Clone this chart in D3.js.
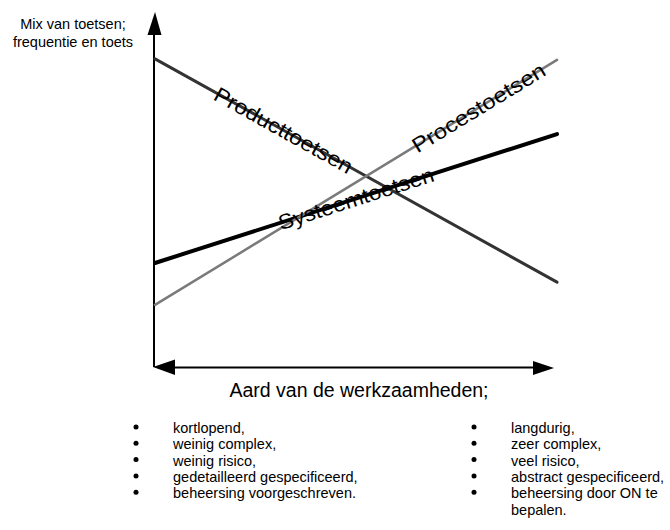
<!DOCTYPE html>
<html>
<head>
<meta charset="utf-8">
<script src="https://cdn.jsdelivr.net/npm/d3@7"></script>
<style>
  html, body { margin: 0; padding: 0; background: #fff; }
  svg { display: block; font-family: "Liberation Sans", Arial, sans-serif; }
</style>
</head>
<body>
<svg id="chart" width="670" height="530"></svg>
<script>
// ---- data ----
const categories = ["kortlopend", "langdurig"];
const seriesNames = ["Producttoetsen", "Systeemtoetsen", "Procestoetsen"];
const producttoetsen = [86.8, 23.9];
const systeemtoetsen = [29.3, 65.6];
const procestoetsen = [17.5, 86.5];
const yAxisLabel = ["Mix van toetsen;", "frequentie en toets"];
const xAxisLabel = "Aard van de werkzaamheden;";
const leftItems = ["kortlopend,", "weinig complex,", "weinig risico,", "gedetailleerd gespecificeerd,", "beheersing voorgeschreven."];
const rightItems = ["langdurig,", "zeer complex,", "veel risico,", "abstract gespecificeerd,", "beheersing door ON te", "bepalen."];
const rightBullets = [true, true, true, true, true, false];

// ---- styles / layout ----
const seriesStyle = {
  Producttoetsen: { color: "#333", width: 3, labelAt: 0.32, labelLen: 155 },
  Systeemtoetsen: { color: "#000", width: 4, labelAt: 0.50, labelLen: 162 },
  Procestoetsen:  { color: "#7a7a7a", width: 2.5, labelAt: 0.805, labelLen: 152 }
};
const seriesData = {
  Producttoetsen: producttoetsen,
  Systeemtoetsen: systeemtoetsen,
  Procestoetsen: procestoetsen
};

const svg = d3.select("#chart");
const x = d3.scalePoint().domain(categories).range([155, 557]);
const y = d3.scaleLinear().domain([0, 100]).range([367, 12]);

// axes with arrowheads
const x0 = x.range()[0] - 1, x1 = x.range()[1];
const yBase = y(0), yTop = y(100);
svg.append("line").attr("x1", x0).attr("x2", x0).attr("y1", yBase).attr("y2", yTop + 20)
  .attr("stroke", "#000").attr("stroke-width", 2);
svg.append("path").attr("d", `M${x0+1},${yTop} L${x0-6.5},${yTop+23} L${x0+7.5},${yTop+23} Z`).attr("fill", "#000");
svg.append("line").attr("x1", x0 + 15).attr("x2", x1 - 20).attr("y1", yBase + 0.5).attr("y2", yBase + 0.5)
  .attr("stroke", "#000").attr("stroke-width", 2);
svg.append("path").attr("d", `M${x0-1},${yBase} L${x0+21},${yBase-7.5} L${x0+21},${yBase+8} Z`).attr("fill", "#000");
svg.append("path").attr("d", `M${x1-3},${yBase+1} L${x1-24},${yBase-6} L${x1-24},${yBase+8} Z`).attr("fill", "#000");

// series lines
const line = d3.line().x((d, i) => x(categories[i])).y(d => y(d));
seriesNames.forEach(name => {
  const st = seriesStyle[name];
  svg.append("path").datum(seriesData[name]).attr("d", line)
    .attr("fill", "none").attr("stroke", st.color).attr("stroke-width", st.width)
    .attr("stroke-linecap", "round");
});
// labels along lines
seriesNames.forEach(name => {
  const st = seriesStyle[name];
  const v = seriesData[name];
  const p0 = [x(categories[0]), y(v[0])], p1 = [x(categories[1]), y(v[1])];
  const cx = p0[0] + (p1[0] - p0[0]) * st.labelAt;
  const cy = p0[1] + (p1[1] - p0[1]) * st.labelAt;
  const ang = Math.atan2(p1[1] - p0[1], p1[0] - p0[0]) * 180 / Math.PI;
  svg.append("text")
    .attr("transform", `translate(${cx},${cy}) rotate(${ang})`)
    .attr("text-anchor", "middle").attr("dy", "0.35em")
    .attr("font-size", 21).attr("fill", "#000")
    .attr("textLength", st.labelLen).attr("lengthAdjust", "spacingAndGlyphs")
    .text(name);
});

// axis labels
const yl = svg.append("text").attr("text-anchor", "middle").attr("font-size", 14.5).attr("fill", "#000");
yAxisLabel.forEach((t, i) => yl.append("tspan").attr("x", 73).attr("y", 29 + i * 18).text(t));
svg.append("text").attr("x", 359).attr("y", 397).attr("text-anchor", "middle")
  .attr("font-size", 19.5).attr("fill", "#000").text(xAxisLabel);

// bullet lists
function list(items, bullets, bx, tx) {
  items.forEach((t, i) => {
    const by = 433 + i * 16.3;
    if (bullets[i]) svg.append("circle").attr("cx", bx).attr("cy", by - 6).attr("r", 2.5).attr("fill", "#000");
    svg.append("text").attr("x", tx).attr("y", by).attr("font-size", 14.5).attr("fill", "#000").text(t);
  });
}
list(leftItems, leftItems.map(() => true), 136, 173);
list(rightItems, rightBullets, 474, 511);
</script>
</body>
</html>
